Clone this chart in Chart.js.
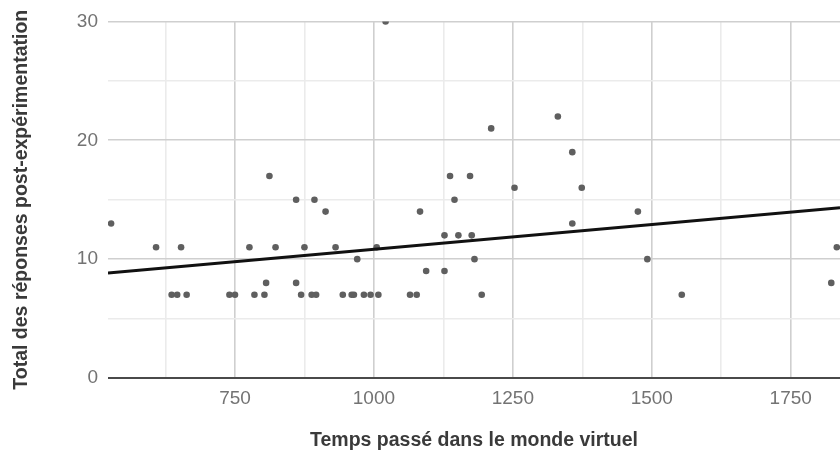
<!DOCTYPE html>
<html>
<head>
<meta charset="utf-8">
<script src="https://cdn.jsdelivr.net/npm/chart.js@4.4.0/dist/chart.umd.min.js"></script>
<style>
  html, body { margin: 0; padding: 0; background: #ffffff; overflow: hidden; }
  #wrap { width: 840px; height: 463px; }
</style>
</head>
<body>
<div id="wrap"><canvas id="c" width="840" height="463"></canvas></div>
<script>
// Data
const timeValues = [
  527, 608, 636, 646, 653, 663, 740, 750, 776, 785, 803, 806, 812, 823,
  860, 860, 869, 875, 888, 893, 896, 913, 931, 944, 960, 964, 970, 982,
  994, 1005, 1008, 1021, 1065, 1077, 1083, 1094, 1127, 1127, 1137, 1145,
  1152, 1173, 1176, 1181, 1194, 1211, 1253, 1331, 1357, 1357, 1374, 1475,
  1492, 1554, 1823, 1833
];
const scoreValues = [
  13, 11, 7, 7, 11, 7, 7, 7, 11, 7, 7, 8, 17, 11,
  8, 15, 7, 11, 7, 15, 7, 14, 11, 7, 7, 7, 10, 7,
  7, 11, 7, 30, 7, 7, 14, 9, 12, 9, 17, 15,
  12, 17, 12, 10, 7, 21, 16, 22, 19, 13, 16, 14,
  10, 7, 8, 11
];
const trendX = [521.5, 1838.7];
const trendY = [8.83, 14.33];
const xTickValues = [625, 750, 875, 1000, 1125, 1250, 1375, 1500, 1625, 1750];
const yTickValues = [0, 5, 10, 15, 20, 25, 30];
const xTitle = 'Temps passé dans le monde virtuel';
const yTitle = 'Total des réponses post-expérimentation';

const points = timeValues.map((x, i) => ({ x: x, y: scoreValues[i] }));
const trend = trendX.map((x, i) => ({ x: x, y: trendY[i] }));

const tickFont = { family: '"Liberation Sans", Arial, sans-serif', size: 19 };
const titleFont = { family: '"Liberation Sans", Arial, sans-serif', size: 19.5, weight: 'bold' };

new Chart(document.getElementById('c'), {
  type: 'scatter',
  data: {
    datasets: [
      {
        data: trend,
        showLine: true,
        borderColor: '#111111',
        borderWidth: 3,
        pointRadius: 0,
        fill: false,
        clip: 0
      },
      {
        data: points,
        showLine: false,
        backgroundColor: '#5f5f5f',
        borderWidth: 0,
        pointRadius: 3.3,
        clip: 0
      }
    ]
  },
  options: {
    responsive: false,
    animation: false,
    layout: { autoPadding: false, padding: { top: 20, right: 0, left: 0, bottom: 0 } },
    plugins: { legend: { display: false }, tooltip: { enabled: false } },
    scales: {
      x: {
        type: 'linear',
        min: 521.5,
        max: 1838.7,
        afterBuildTicks: (s) => { s.ticks = xTickValues.map(v => ({ value: v })); },
        afterFit: (s) => { s.height = 85; },
        border: { display: false },
        grid: {
          drawTicks: false,
          color: (ctx) => (ctx.tick && ctx.tick.value % 250 === 0) ? '#cfcfcf' : '#ebebeb',
          lineWidth: 1.6
        },
        ticks: {
          autoSkip: false,
          maxRotation: 0,
          padding: 9,
          color: '#737373',
          font: tickFont,
          callback: (v) => (v % 250 === 0 ? String(v) : '')
        },
        title: {
          display: true,
          text: xTitle,
          color: '#3a3a3a',
          font: titleFont,
          padding: { top: 0, bottom: 11 }
        }
      },
      y: {
        min: 0,
        max: 30,
        afterBuildTicks: (s) => { s.ticks = yTickValues.map(v => ({ value: v })); },
        afterFit: (s) => { s.width = 108; },
        border: { display: false },
        grid: {
          drawTicks: false,
          color: (ctx) => {
            const v = ctx.tick ? ctx.tick.value : null;
            if (v === 0) return '#4a4a4a';
            return (v % 10 === 0) ? '#cfcfcf' : '#ebebeb';
          },
          lineWidth: (ctx) => (ctx.tick && ctx.tick.value === 0) ? 2 : 1.6
        },
        ticks: {
          padding: 10,
          color: '#737373',
          font: tickFont,
          callback: (v) => (v % 10 === 0 ? String(v) : '')
        },
        title: {
          display: true,
          text: yTitle,
          color: '#3a3a3a',
          font: titleFont,
          padding: { top: 10, bottom: 0 }
        }
      }
    }
  }
});
</script>
</body>
</html>
